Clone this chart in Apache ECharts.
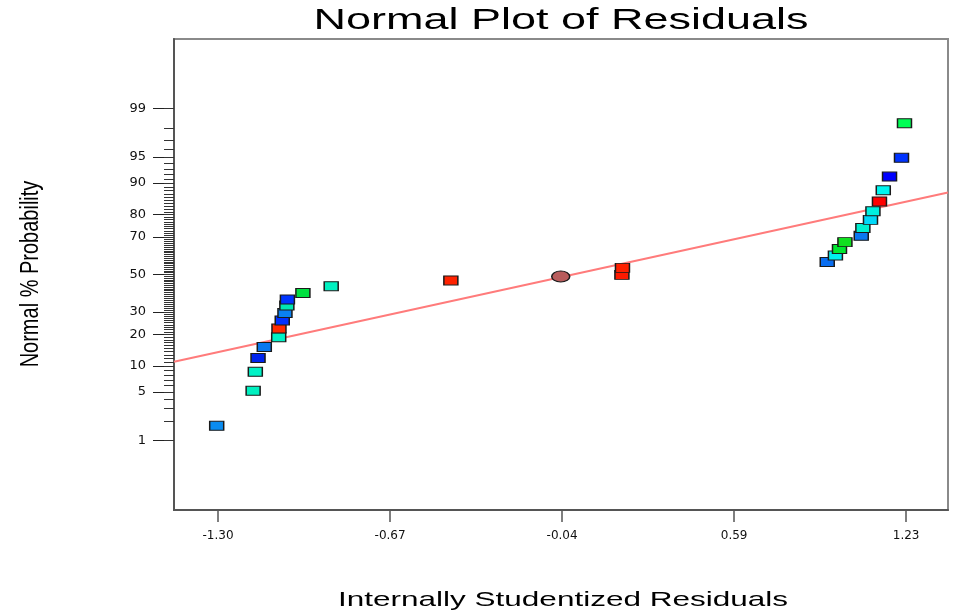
<!DOCTYPE html>
<html>
<head>
<meta charset="utf-8">
<script src="https://cdn.jsdelivr.net/npm/echarts@6/dist/echarts.min.js"></script>
<style>
  html, body { margin: 0; padding: 0; background: #fff; }
  #main { width: 953px; height: 613px; }
</style>
</head>
<body>
<div id="main"></div>
<script>
// residuals (x) and their normal % probability (y), in plotting order
const residuals = [-1.305, -1.171, -1.163, -1.153, -1.130, -1.077, -1.076, -1.064, -1.054, -1.047,
  -1.045, -0.988, -0.884, -0.444, -0.040, 0.185, 0.187, 0.940, 0.970, 0.985,
  1.005, 1.065, 1.071, 1.099, 1.108, 1.132, 1.146, 1.169, 1.213, 1.224];
const probabilities = [1.70, 5.16, 8.63, 12.1, 15.5, 19.0, 22.5, 26.0, 29.5, 33.2,
  36.3, 39.8, 43.5, 46.7, 48.9, 49.8, 53.7, 57.0, 60.5, 64.0,
  67.5, 70.6, 74.3, 77.8, 81.2, 84.7, 88.1, 91.5, 94.9, 98.3];
const pointColors = ['#0a8cf0', '#00f0c0', '#00f2c6', '#0024ee', '#0a78f0', '#00f2c6', '#ff2a00', '#0030ff', '#0a80f0', '#00e8b4',
  '#0035ff', '#00e040', '#00f0c0', '#ff2200', '#b85c5c', '#ff1a00', '#ff2000', '#0a6ef0', '#00f0f0', '#00e830',
  '#10e020', '#0a78f0', '#00f0d0', '#00d8f8', '#00f0e0', '#ff0000', '#00f6f0', '#0000ff', '#0033ff', '#00ff55'];
const circleIndex = 14;

// fitted normal line, given by its end points
const fitX = [-1.462, 1.384];
const fitProb = [11.05, 87.5];

const xTickValues = [-1.30, -0.6675, -0.035, 0.5975, 1.23];
const xTickLabels = ['-1.30', '-0.67', '-0.04', '0.59', '1.23'];
const yTickLabels = [1, 5, 10, 20, 30, 50, 70, 80, 90, 95, 99];

// inverse of the standard normal cdf (Acklam), used as the probability scale
function probit(p) {
  const a = [-3.969683028665376e+01, 2.209460984245205e+02, -2.759285104469687e+02, 1.383577518672690e+02, -3.066479806614716e+01, 2.506628277459239e+00];
  const b = [-5.447609879822406e+01, 1.615858368580409e+02, -1.556989798598866e+02, 6.680131188771972e+01, -1.328068155288572e+01];
  const c = [-7.784894002430293e-03, -3.223964580411365e-01, -2.400758277161838e+00, -2.549732539343734e+00, 4.374664141464968e+00, 2.938163982698783e+00];
  const d = [7.784695709041462e-03, 3.224671290700398e-01, 2.445134137142996e+00, 3.754408661907416e+00];
  const pl = 0.02425;
  let q, r;
  if (p < pl) {
    q = Math.sqrt(-2 * Math.log(p));
    return (((((c[0]*q+c[1])*q+c[2])*q+c[3])*q+c[4])*q+c[5]) / ((((d[0]*q+d[1])*q+d[2])*q+d[3])*q+1);
  }
  if (p > 1 - pl) {
    q = Math.sqrt(-2 * Math.log(1 - p));
    return -(((((c[0]*q+c[1])*q+c[2])*q+c[3])*q+c[4])*q+c[5]) / ((((d[0]*q+d[1])*q+d[2])*q+d[3])*q+1);
  }
  q = p - 0.5;
  r = q * q;
  return (((((a[0]*r+a[1])*r+a[2])*r+a[3])*r+a[4])*r+a[5])*q / (((((b[0]*r+b[1])*r+b[2])*r+b[3])*r+b[4])*r+1);
}
const toZ = pct => probit(pct / 100);

const yTickZ = yTickLabels.map(toZ);
const minorZ = [];
for (let i = 1; i <= 99; i++) minorZ.push(toZ(i));

const Z_MIN = -3.3, Z_MAX = 3.3;
const X_MIN = -1.462, X_MAX = 1.384;

const points = residuals.map((x, i) => ({
  value: [x, toZ(probabilities[i])],
  symbol: i === circleIndex ? 'circle' : 'rect',
  symbolSize: i === circleIndex ? [18, 11] : [14, 9],
  itemStyle: { color: pointColors[i] }
}));

const font = "'Liberation Sans', Arial, sans-serif";

const option = {
  animation: false,
  backgroundColor: '#fff',
  grid: {
    left: 174, right: 5, top: 39, bottom: 103,
    show: true, borderColor: '#8a8a8a', borderWidth: 2,
    outerBoundsMode: 'none'
  },
  xAxis: {
    type: 'value',
    min: X_MIN, max: X_MAX,
    splitLine: { show: false },
    axisLine: { onZero: false, lineStyle: { color: '#555', width: 2 } },
    axisTick: { customValues: xTickValues, length: 12, lineStyle: { color: '#555', width: 1.5 } },
    axisLabel: {
      customValues: xTickValues,
      margin: 20,
      fontFamily: 'DejaVu Sans', fontSize: 12, color: '#111',
      formatter: v => xTickLabels[xTickValues.findIndex(t => Math.abs(t - v) < 1e-6)]
    }
  },
  yAxis: [
    {
      type: 'value',
      min: Z_MIN, max: Z_MAX,
      splitLine: { show: false },
      axisLine: { onZero: false, lineStyle: { color: '#555', width: 2 } },
      axisTick: { customValues: yTickZ, length: 21, lineStyle: { color: '#222', width: 1 } },
      axisLabel: {
        customValues: yTickZ,
        margin: 28,
        fontFamily: 'DejaVu Sans', fontSize: 13, color: '#111',
        formatter: v => String(yTickLabels[yTickZ.findIndex(t => Math.abs(t - v) < 1e-6)])
      }
    },
    {
      type: 'value',
      position: 'left',
      min: Z_MIN, max: Z_MAX,
      splitLine: { show: false },
      axisLine: { show: false, onZero: false },
      axisTick: { customValues: minorZ, length: 10, lineStyle: { color: '#333', width: 1 } },
      axisLabel: { show: false }
    }
  ],
  graphic: [
    {
      type: 'text', x: 561, y: 21, scaleX: 1.5,
      style: { text: 'Normal Plot of Residuals', font: '30px ' + font, fill: '#000', align: 'center', verticalAlign: 'middle' }
    },
    {
      type: 'text', x: 563, y: 600, scaleX: 1.5,
      style: { text: 'Internally Studentized Residuals', font: '21px ' + font, fill: '#000', align: 'center', verticalAlign: 'middle' }
    },
    {
      type: 'text', x: 31, y: 274, rotation: Math.PI / 2, scaleX: 0.8,
      style: { text: 'Normal % Probability', font: '25px ' + font, fill: '#000', align: 'center', verticalAlign: 'middle' }
    }
  ],
  series: [
    {
      type: 'line',
      data: fitX.map((x, i) => [x, toZ(fitProb[i])]),
      symbol: 'none',
      lineStyle: { color: '#ff7b7b', width: 2 },
      z: 1
    },
    {
      type: 'scatter',
      data: points,
      itemStyle: { borderColor: '#1a1a1a', borderWidth: 1.2, opacity: 1 },
      z: 3
    }
  ]
};

const chart = echarts.init(document.getElementById('main'));
chart.setOption(option);
</script>
</body>
</html>
